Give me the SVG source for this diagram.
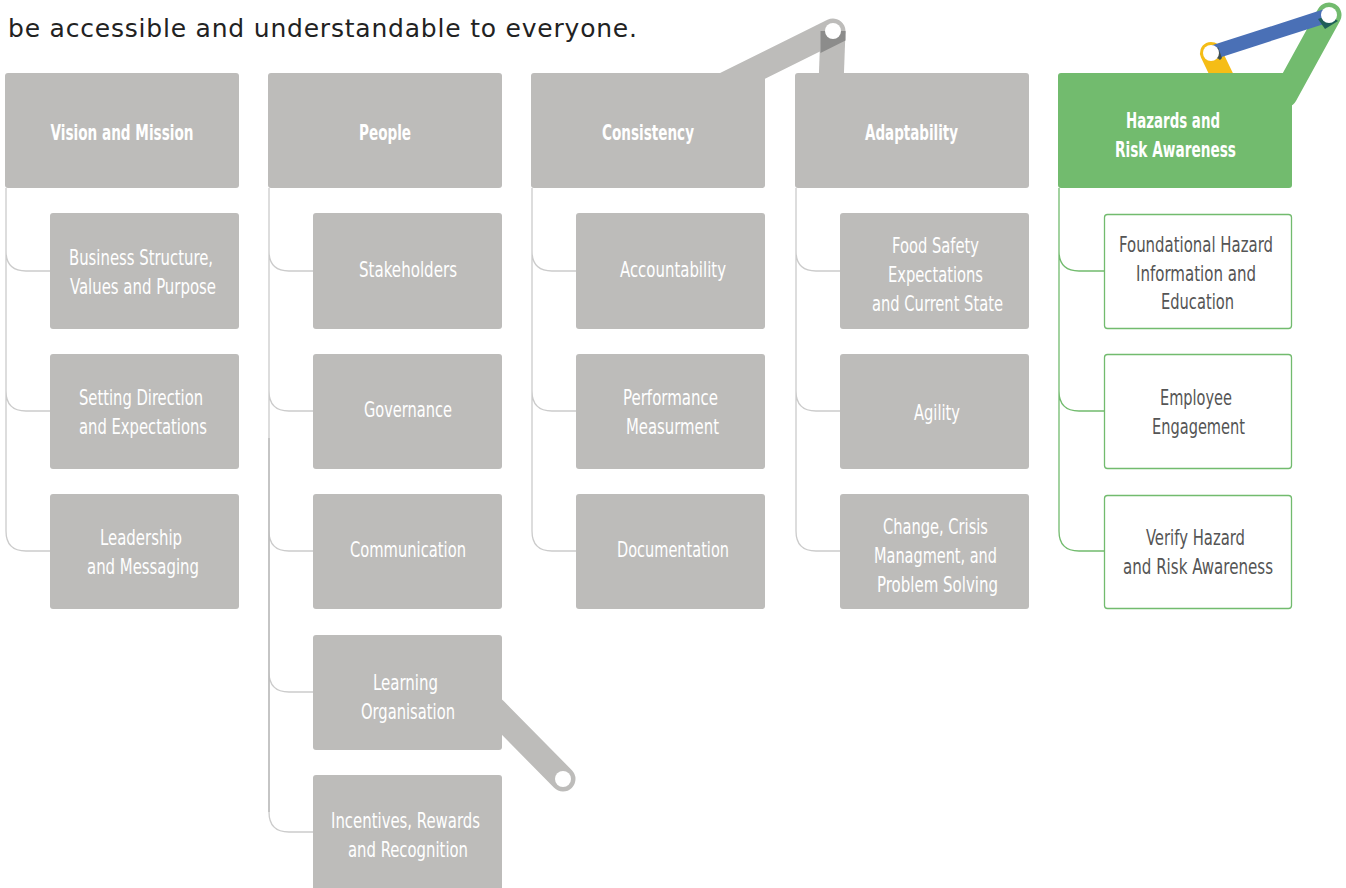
<svg xmlns="http://www.w3.org/2000/svg" width="1346" height="888" viewBox="0 0 1346 888">
<style>
.hd{fill:#bdbcba}
.ch{fill:#bdbcba}
.gh{fill:#72bb6e}
.gc{fill:#ffffff;stroke:#72bb6e;stroke-width:1.3}
.tl{fill:none;stroke:#cbcbcb;stroke-width:1.3}
.gl{fill:none;stroke:#72bb6e;stroke-width:1.3}
.ht{font-family:"DejaVu Sans Condensed","DejaVu Sans","Liberation Sans",sans-serif;font-weight:bold;font-size:21px;fill:#ffffff;text-anchor:middle}
.ct{font-family:"DejaVu Sans Condensed","DejaVu Sans","Liberation Sans",sans-serif;font-size:21px;fill:#ffffff;text-anchor:middle}
.gt{font-family:"DejaVu Sans Condensed","DejaVu Sans","Liberation Sans",sans-serif;font-size:21px;fill:#555555;text-anchor:middle}
.top{font-family:"DejaVu Sans","Liberation Sans",sans-serif;font-size:25px;fill:#222222}
</style>
<rect width="1346" height="888" fill="#ffffff"/>
<text class="top" x="8" y="37" textLength="629" lengthAdjust="spacing">be accessible and understandable to everyone.</text>

<g id="connectors">
  <path class="tl" d="M6,188 V251 Q6,271 26,271 H50 M6,251 V391 Q6,411 26,411 H50 M6,391 V531 Q6,551 26,551 H50"/>
  <path class="tl" d="M269,188 V251 Q269,271 289,271 H313 M269,251 V391 Q269,411 289,411 H313 M269,391 V531 Q269,551 289,551 H313 M269,531 V672 Q269,692 289,692 H313 M269,672 V812 Q269,832 289,832 H313"/>
  <path fill="none" stroke="#b8b8b8" stroke-width="1.3" d="M269,438 V812"/>
  <path class="tl" d="M532,188 V251 Q532,271 552,271 H576 M532,251 V391 Q532,411 552,411 H576 M532,391 V531 Q532,551 552,551 H576"/>
  <path class="tl" d="M796,188 V251 Q796,271 816,271 H840 M796,251 V391 Q796,411 816,411 H840 M796,391 V531 Q796,551 816,551 H840"/>
  <path class="gl" d="M1059,188 V251 Q1059,271 1079,271 H1104 M1059,251 V391 Q1059,411 1079,411 H1104 M1059,391 V531 Q1059,551 1079,551 H1104"/>

  <line x1="712" y1="91" x2="833" y2="31" stroke="#bdbcba" stroke-width="25" stroke-linecap="round"/>
  <line x1="831" y1="85" x2="833" y2="31" stroke="#bdbcba" stroke-width="25"/>
  <polygon points="820.5,31 845.5,31 845.5,40.5 820.5,53" fill="#8c8c8b"/>
  <circle cx="833" cy="31" r="8" fill="#ffffff"/>

  <line x1="495" y1="710" x2="563" y2="779" stroke="#bdbcba" stroke-width="25" stroke-linecap="round"/>
  <circle cx="563" cy="779" r="8" fill="#ffffff"/>

  <line x1="1211" y1="53" x2="1224" y2="80" stroke="#f5bd16" stroke-width="22" stroke-linecap="round"/>
  <line x1="1285" y1="95" x2="1329" y2="15" stroke="#72bb6e" stroke-width="25" stroke-linecap="round"/>
  <line x1="1211" y1="53" x2="1329" y2="15" stroke="#4a70b6" stroke-width="14"/>
  <polygon points="1318,19 1329,15 1338,21 1325,29" fill="#1f5f58"/>
  <polygon points="1218,47 1211,53 1220,60 1222,58" fill="#3f4e50"/>
  <circle cx="1211" cy="53" r="8" fill="#ffffff"/>
  <circle cx="1329" cy="15" r="8" fill="#ffffff"/>
</g>

<g id="vision">
  <rect class="hd" x="5" y="73" width="234" height="115" rx="3"/>
  <text class="ht" x="122" y="140" textLength="143" lengthAdjust="spacingAndGlyphs">Vision and Mission</text>
</g>
<g id="business-structure">
  <rect class="ch" x="50" y="213" width="189" height="116" rx="3"/>
  <text class="ct" x="141" y="265" textLength="144" lengthAdjust="spacingAndGlyphs">Business Structure,</text>
  <text class="ct" x="143" y="294" textLength="146" lengthAdjust="spacingAndGlyphs">Values and Purpose</text>
</g>
<g id="setting-direction">
  <rect class="ch" x="50" y="354" width="189" height="115" rx="3"/>
  <text class="ct" x="141" y="405" textLength="124" lengthAdjust="spacingAndGlyphs">Setting Direction</text>
  <text class="ct" x="143" y="434" textLength="128" lengthAdjust="spacingAndGlyphs">and Expectations</text>
</g>
<g id="leadership">
  <rect class="ch" x="50" y="494" width="189" height="115" rx="3"/>
  <text class="ct" x="141" y="545" textLength="82" lengthAdjust="spacingAndGlyphs">Leadership</text>
  <text class="ct" x="143" y="574" textLength="112" lengthAdjust="spacingAndGlyphs">and Messaging</text>
</g>

<g id="people">
  <rect class="hd" x="268" y="73" width="234" height="115" rx="3"/>
  <text class="ht" x="385" y="140" textLength="52" lengthAdjust="spacingAndGlyphs">People</text>
</g>
<g id="stakeholders">
  <rect class="ch" x="313" y="213" width="189" height="116" rx="3"/>
  <text class="ct" x="408" y="277" textLength="98" lengthAdjust="spacingAndGlyphs">Stakeholders</text>
</g>
<g id="governance">
  <rect class="ch" x="313" y="354" width="189" height="115" rx="3"/>
  <text class="ct" x="408" y="417" textLength="88" lengthAdjust="spacingAndGlyphs">Governance</text>
</g>
<g id="communication">
  <rect class="ch" x="313" y="494" width="189" height="115" rx="3"/>
  <text class="ct" x="408" y="557" textLength="116" lengthAdjust="spacingAndGlyphs">Communication</text>
</g>
<g id="learning">
  <rect class="ch" x="313" y="635" width="189" height="115" rx="3"/>
  <text class="ct" x="405.5" y="690" textLength="65" lengthAdjust="spacingAndGlyphs">Learning</text>
  <text class="ct" x="408" y="719" textLength="94" lengthAdjust="spacingAndGlyphs">Organisation</text>
</g>
<g id="incentives">
  <rect class="ch" x="313" y="775" width="189" height="120" rx="3"/>
  <text class="ct" x="405.5" y="828" textLength="149" lengthAdjust="spacingAndGlyphs">Incentives, Rewards</text>
  <text class="ct" x="408" y="857" textLength="120" lengthAdjust="spacingAndGlyphs">and Recognition</text>
</g>

<g id="consistency">
  <rect class="hd" x="531" y="73" width="234" height="115" rx="3"/>
  <text class="ht" x="648" y="140" textLength="92" lengthAdjust="spacingAndGlyphs">Consistency</text>
</g>
<g id="accountability">
  <rect class="ch" x="576" y="213" width="189" height="116" rx="3"/>
  <text class="ct" x="673" y="277" textLength="106" lengthAdjust="spacingAndGlyphs">Accountability</text>
</g>
<g id="performance">
  <rect class="ch" x="576" y="354" width="189" height="115" rx="3"/>
  <text class="ct" x="670.5" y="405" textLength="95" lengthAdjust="spacingAndGlyphs">Performance</text>
  <text class="ct" x="672.5" y="434" textLength="93" lengthAdjust="spacingAndGlyphs">Measurment</text>
</g>
<g id="documentation">
  <rect class="ch" x="576" y="494" width="189" height="115" rx="3"/>
  <text class="ct" x="673" y="557" textLength="112" lengthAdjust="spacingAndGlyphs">Documentation</text>
</g>

<g id="adaptability">
  <rect class="hd" x="795" y="73" width="234" height="115" rx="3"/>
  <text class="ht" x="911.5" y="140" textLength="93" lengthAdjust="spacingAndGlyphs">Adaptability</text>
</g>
<g id="food-safety">
  <rect class="ch" x="840" y="213" width="189" height="116" rx="3"/>
  <text class="ct" x="935.5" y="253" textLength="87" lengthAdjust="spacingAndGlyphs">Food Safety</text>
  <text class="ct" x="935.5" y="282" textLength="95" lengthAdjust="spacingAndGlyphs">Expectations</text>
  <text class="ct" x="937.5" y="311" textLength="131" lengthAdjust="spacingAndGlyphs">and Current State</text>
</g>
<g id="agility">
  <rect class="ch" x="840" y="354" width="189" height="115" rx="3"/>
  <text class="ct" x="937" y="420" textLength="46" lengthAdjust="spacingAndGlyphs">Agility</text>
</g>
<g id="change">
  <rect class="ch" x="840" y="494" width="189" height="115" rx="3"/>
  <text class="ct" x="935.5" y="534" textLength="105" lengthAdjust="spacingAndGlyphs">Change, Crisis</text>
  <text class="ct" x="935.5" y="563" textLength="123" lengthAdjust="spacingAndGlyphs">Managment, and</text>
  <text class="ct" x="937.5" y="592" textLength="121" lengthAdjust="spacingAndGlyphs">Problem Solving</text>
</g>

<g id="hazards">
  <rect class="gh" x="1058" y="73" width="234" height="115" rx="3"/>
  <text class="ht" x="1173" y="128" textLength="94" lengthAdjust="spacingAndGlyphs">Hazards and</text>
  <text class="ht" x="1175.5" y="157" textLength="121" lengthAdjust="spacingAndGlyphs">Risk Awareness</text>
</g>
<g id="foundational">
  <rect class="gc" x="1104.5" y="214.5" width="187" height="114" rx="3"/>
  <text class="gt" x="1196" y="252" textLength="154" lengthAdjust="spacingAndGlyphs">Foundational Hazard</text>
  <text class="gt" x="1196" y="281" textLength="120" lengthAdjust="spacingAndGlyphs">Information and</text>
  <text class="gt" x="1197.5" y="309" textLength="73" lengthAdjust="spacingAndGlyphs">Education</text>
</g>
<g id="employee">
  <rect class="gc" x="1104.5" y="354.5" width="187" height="114" rx="3"/>
  <text class="gt" x="1196" y="405" textLength="72" lengthAdjust="spacingAndGlyphs">Employee</text>
  <text class="gt" x="1198.5" y="434" textLength="93" lengthAdjust="spacingAndGlyphs">Engagement</text>
</g>
<g id="verify">
  <rect class="gc" x="1104.5" y="495.5" width="187" height="113" rx="3"/>
  <text class="gt" x="1195.5" y="545" textLength="99" lengthAdjust="spacingAndGlyphs">Verify Hazard</text>
  <text class="gt" x="1198" y="574" textLength="150" lengthAdjust="spacingAndGlyphs">and Risk Awareness</text>
</g>
</svg>
